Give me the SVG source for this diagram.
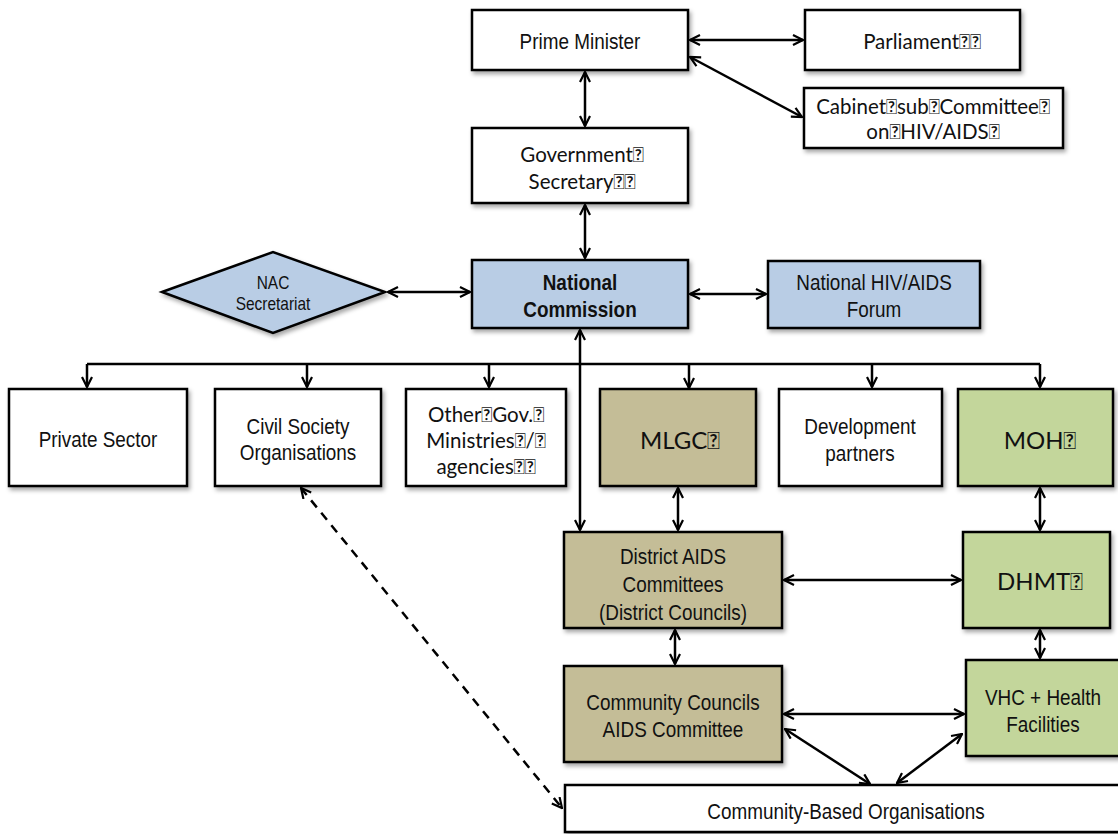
<svg xmlns="http://www.w3.org/2000/svg" width="1118" height="834" viewBox="0 0 1118 834">
<defs>
<marker id="ah" viewBox="0 0 12 12" refX="11" refY="6" markerWidth="12" markerHeight="12" markerUnits="userSpaceOnUse" orient="auto-start-reverse">
<path d="M1,1 L11,6 L1,11" fill="none" stroke="#000" stroke-width="2.2"/>
</marker>
<filter id="sh" x="-10%" y="-10%" width="130%" height="130%">
<feDropShadow dx="2" dy="3" stdDeviation="2" flood-color="#000" flood-opacity="0.35"/>
</filter>
<style>
.box{stroke:#000;stroke-width:2.5;filter:url(#sh)}
.w{fill:#fff}.b{fill:#b9cde5}.t{fill:#c4bd97}.g{fill:#c3d69b}
.n{font-family:"Liberation Sans",Arial,sans-serif;font-size:22px;fill:#111;text-anchor:middle}
.c{font-family:Lato,"Open Sans","Liberation Sans",sans-serif;font-size:20.5px;fill:#111;text-anchor:middle}
.big{font-size:24px}
.bold{font-weight:bold}
.ln{stroke:#000;stroke-width:2.5;fill:none}
.arr{stroke:#000;stroke-width:2.5;fill:none;marker-end:url(#ah);marker-start:url(#ah)}
.one{stroke:#000;stroke-width:2.5;fill:none;marker-end:url(#ah)}
</style>
</defs>
<g id="connectors">
<line class="arr" x1="690" y1="40" x2="803" y2="40"/>
<line class="arr" x1="690" y1="57" x2="802" y2="117"/>
<line class="arr" x1="585" y1="72" x2="585" y2="126"/>
<line class="arr" x1="585" y1="205" x2="585" y2="258"/>
<line class="arr" x1="388" y1="292" x2="470" y2="292"/>
<line class="arr" x1="690" y1="294" x2="766" y2="294"/>
<line class="ln" x1="87" y1="364" x2="1040" y2="364"/>
<line class="one" x1="87" y1="364" x2="87" y2="387"/>
<line class="one" x1="307" y1="364" x2="307" y2="387"/>
<line class="one" x1="489" y1="364" x2="489" y2="387"/>
<line class="one" x1="689" y1="364" x2="689" y2="388"/>
<line class="one" x1="872" y1="364" x2="872" y2="387"/>
<line class="one" x1="1040" y1="364" x2="1040" y2="387"/>
<line class="arr" x1="580" y1="330" x2="580" y2="530"/>
<line class="arr" x1="678" y1="488" x2="678" y2="530"/>
<line class="arr" x1="1040" y1="488" x2="1040" y2="530"/>
<line class="arr" x1="784" y1="580" x2="961" y2="580"/>
<line class="arr" x1="675" y1="630" x2="675" y2="664"/>
<line class="arr" x1="1040" y1="630" x2="1040" y2="658"/>
<line class="arr" x1="784" y1="714" x2="964" y2="714"/>
<line class="arr" x1="785" y1="729" x2="870" y2="784"/>
<line class="arr" x1="962" y1="734" x2="897" y2="783"/>
<line class="arr" x1="301" y1="488" x2="562" y2="808" stroke-dasharray="9,7"/>
</g>
<g id="prime-minister"><rect class="box w" x="472" y="10" width="216" height="60"/><text class="n" transform="translate(580,49) scale(0.86,1)">Prime Minister</text></g>
<g id="parliament"><rect class="box w" x="805" y="10" width="215" height="60"/><text class="c" x="922" y="49">Parliament&#xF020;&#xF020;</text></g>
<g id="cabinet"><rect class="box w" x="804" y="88" width="259" height="60"/><text class="c" x="933" y="114">Cabinet&#xF020;sub&#xF020;Committee&#xF020;</text><text class="c" x="933" y="139">on&#xF020;HIV/AIDS&#xF020;</text></g>
<g id="gov-secretary"><rect class="box w" x="472" y="128" width="216" height="75"/><text class="c" x="582" y="162">Government&#xF020;</text><text class="c" x="582" y="189">Secretary&#xF020;&#xF020;</text></g>
<g id="national-commission"><rect class="box b" x="472" y="260" width="216" height="68"/><text class="n bold" transform="translate(580,290) scale(0.86,1)">National</text><text class="n bold" transform="translate(580,317) scale(0.86,1)">Commission</text></g>
<g id="nac-secretariat"><polygon class="box b" points="162,292 273,252 385,292 273,333"/><text class="n" transform="translate(273,289) scale(0.86,1)" style="font-size:18px">NAC</text><text class="n" transform="translate(273,310) scale(0.86,1)" style="font-size:18px">Secretariat</text></g>
<g id="forum"><rect class="box b" x="768" y="261" width="212" height="67"/><text class="n" transform="translate(874,290) scale(0.86,1)">National HIV/AIDS</text><text class="n" transform="translate(874,317) scale(0.86,1)">Forum</text></g>
<g id="private-sector"><rect class="box w" x="9" y="389" width="178" height="97"/><text class="n" transform="translate(98,447) scale(0.86,1)">Private Sector</text></g>
<g id="civil-society"><rect class="box w" x="215" y="389" width="166" height="97"/><text class="n" transform="translate(298,434) scale(0.86,1)">Civil Society</text><text class="n" transform="translate(298,460) scale(0.86,1)">Organisations</text></g>
<g id="other-gov"><rect class="box w" x="406" y="389" width="160" height="97"/><text class="c" x="486" y="422">Other&#xF020;Gov.&#xF020;</text><text class="c" x="486" y="448">Ministries&#xF020;/&#xF020;</text><text class="c" x="486" y="474">agencies&#xF020;&#xF020;</text></g>
<g id="mlgc"><rect class="box t" x="600" y="389" width="156" height="97"/><text class="c big" x="680" y="449">MLGC&#xF020;</text></g>
<g id="dev-partners"><rect class="box w" x="779" y="389" width="163" height="97"/><text class="n" transform="translate(860,434) scale(0.86,1)">Development</text><text class="n" transform="translate(860,461) scale(0.86,1)">partners</text></g>
<g id="moh"><rect class="box g" x="958" y="389" width="155" height="97"/><text class="c big" x="1040" y="449">MOH&#xF020;</text></g>
<g id="district-aids"><rect class="box t" x="564" y="532" width="218" height="96"/><text class="n" transform="translate(673,564) scale(0.86,1)">District AIDS</text><text class="n" transform="translate(673,592) scale(0.86,1)">Committees</text><text class="n" transform="translate(673,620) scale(0.86,1)">(District Councils)</text></g>
<g id="dhmt"><rect class="box g" x="963" y="532" width="147" height="96"/><text class="c big" x="1040" y="590">DHMT&#xF020;</text></g>
<g id="community-councils"><rect class="box t" x="564" y="666" width="218" height="96"/><text class="n" transform="translate(673,710) scale(0.86,1)">Community Councils</text><text class="n" transform="translate(673,737) scale(0.86,1)">AIDS Committee</text></g>
<g id="vhc"><rect class="box g" x="966" y="660" width="160" height="96"/><text class="n" transform="translate(1043,705) scale(0.86,1)">VHC + Health</text><text class="n" transform="translate(1043,732) scale(0.86,1)">Facilities</text></g>
<g id="cbo"><rect class="box w" x="565" y="785" width="560" height="47"/><text class="n" transform="translate(846,819) scale(0.86,1)">Community-Based Organisations</text></g>
</svg>
